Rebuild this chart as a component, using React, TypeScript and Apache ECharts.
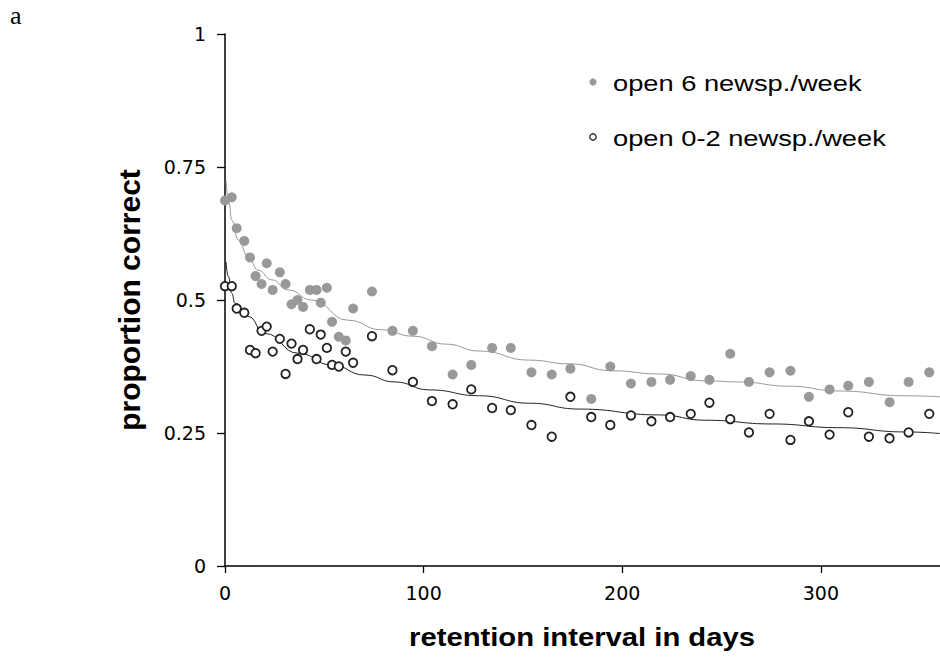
import React, { useEffect, useRef } from "react";
import * as echarts from "echarts";

// Retention interval (days) at which each recall test was taken
const retentionDays = [
  0, 3.4, 5.9, 9.7, 12.6, 15.4, 18.4, 21, 24, 27.6, 30.5, 33.5, 36.5, 39.3, 42.7, 46.1, 48.2,
  51.3, 53.9, 57.3, 60.8, 64.5, 74, 84.3, 94.6, 104.2, 114.6, 124, 134.5, 143.9, 154.3, 164.5,
  173.9, 184.4, 194, 204.4, 214.7, 224.1, 234.5, 243.9, 254.4, 263.8, 274.2, 284.7, 294, 304.4,
  313.8, 324.2, 334.6, 344.2, 354.6,
];

// Proportion correct, readers who open 6 newspapers per week
const heavyReaders = [
  0.687, 0.693, 0.635, 0.611, 0.58, 0.545, 0.53, 0.569, 0.519, 0.552, 0.53, 0.492, 0.5, 0.487,
  0.519, 0.519, 0.495, 0.523, 0.459, 0.431, 0.424, 0.484, 0.516, 0.442, 0.442, 0.413, 0.36,
  0.378, 0.41, 0.41, 0.364, 0.36, 0.371, 0.314, 0.375, 0.343, 0.346, 0.35, 0.357, 0.35, 0.399,
  0.346, 0.364, 0.367, 0.318, 0.332, 0.339, 0.346, 0.308, 0.346, 0.364,
];

// Proportion correct, readers who open 0-2 newspapers per week
const lightReaders = [
  0.526, 0.526, 0.484, 0.476, 0.406, 0.4, 0.442, 0.45, 0.403, 0.427, 0.361, 0.418, 0.389, 0.406,
  0.445, 0.389, 0.435, 0.41, 0.378, 0.375, 0.403, 0.382, 0.432, 0.368, 0.346, 0.31, 0.304,
  0.332, 0.297, 0.293, 0.265, 0.243, 0.318, 0.28, 0.265, 0.283, 0.272, 0.28, 0.286, 0.307,
  0.276, 0.251, 0.286, 0.237, 0.272, 0.247, 0.289, 0.243, 0.24, 0.251, 0.286,
];

// Fitted retention curves
const heavyFitDays = [
  0.5, 2, 3.4, 6.7, 11.7, 16.7, 23.5, 31.8, 43.6, 62, 78.7, 94.6, 111.4, 128.1, 153.3, 173.4,
  195.1, 218.6, 242.1, 258.8, 283.9, 309, 342.6, 360,
];
const heavyFit = [
  0.726, 0.682, 0.65, 0.613, 0.581, 0.556, 0.538, 0.519, 0.5, 0.462, 0.444, 0.432, 0.417, 0.404,
  0.387, 0.38, 0.367, 0.361, 0.348, 0.346, 0.338, 0.329, 0.32, 0.318,
];
const lightFitDays = [
  0.5, 1.7, 3.4, 5, 11.7, 20.1, 36.8, 53.6, 70.4, 85.4, 103, 128.1, 153.3, 178.4, 218.6, 242.1,
  275.5, 309, 342.6, 360,
];
const lightFit = [
  0.572, 0.544, 0.513, 0.494, 0.469, 0.437, 0.4, 0.378, 0.359, 0.346, 0.331, 0.32, 0.306, 0.295,
  0.284, 0.274, 0.267, 0.26, 0.252, 0.249,
];

const legendLabels = ["open 6 newsp./week", "open 0-2 newsp./week"];

const zip = (xs: number[], ys: number[]) => xs.map((x, i) => [x, ys[i]]);

const GREY = "#999999";
const DARK = "#222222";
const SANS = "'Liberation Sans', Arial, sans-serif";
const TICK_FONT = "'DejaVu Sans', sans-serif";

export default function App() {
  const ref = useRef<HTMLDivElement>(null);

  useEffect(() => {
    if (!ref.current) return;
    const chart = echarts.init(ref.current, undefined, { renderer: "svg" });

    const axisLine = { show: true, lineStyle: { color: "#000", width: 1.5 } };
    const axisTick = { show: true, inside: false, length: 8, lineStyle: { color: "#000", width: 1.3 } };

    chart.setOption({
      animation: false,
      backgroundColor: "#fff",
      grid: { left: 225, right: 0, top: 34, bottom: 91, containLabel: false },
      xAxis: {
        type: "value",
        min: 0,
        max: 360,
        interval: 100,
        axisLine,
        axisTick: { ...axisTick, length: 7 },
        splitLine: { show: false },
        axisLabel: {
          margin: 17,
          fontSize: 19,
          fontFamily: TICK_FONT,
          color: "#000",
          showMaxLabel: false,
        },
      },
      yAxis: {
        type: "value",
        min: 0,
        max: 1,
        interval: 0.25,
        axisLine,
        axisTick,
        splitLine: { show: false },
        axisLabel: { margin: 19, fontSize: 19, fontFamily: TICK_FONT, color: "#000" },
      },
      series: [
        {
          name: legendLabels[0] + " fit",
          type: "line",
          data: zip(heavyFitDays, heavyFit),
          showSymbol: false,
          smooth: true,
          smoothMonotone: "x",
          lineStyle: { color: GREY, width: 1 },
          z: 2,
        },
        {
          name: legendLabels[1] + " fit",
          type: "line",
          data: zip(lightFitDays, lightFit),
          showSymbol: false,
          smooth: true,
          smoothMonotone: "x",
          lineStyle: { color: DARK, width: 1 },
          z: 2,
        },
        {
          name: legendLabels[0],
          type: "scatter",
          data: zip(retentionDays, heavyReaders),
          symbol: "circle",
          symbolSize: 10,
          itemStyle: { color: GREY, opacity: 1 },
          z: 3,
        },
        {
          name: legendLabels[1],
          type: "scatter",
          data: zip(retentionDays, lightReaders),
          symbol: "circle",
          symbolSize: 8.5,
          itemStyle: { color: "#fff", borderColor: DARK, borderWidth: 1.8, opacity: 1 },
          z: 4,
        },
      ],
      graphic: [
        {
          type: "text",
          x: 10,
          y: 15,
          style: {
            text: "a",
            font: "26px 'Liberation Serif', 'Times New Roman', serif",
            fill: "#000",
            align: "left",
            verticalAlign: "middle",
          },
        },
        {
          type: "circle",
          shape: { cx: 593, cy: 82, r: 3.6 },
          style: { fill: GREY },
        },
        {
          type: "text",
          x: 613,
          y: 83.5,
          scaleX: 1.24,
          style: {
            text: legendLabels[0],
            font: `22px ${SANS}`,
            fill: "#000",
            align: "left",
            verticalAlign: "middle",
          },
        },
        {
          type: "circle",
          shape: { cx: 593, cy: 137, r: 3.2 },
          style: { fill: "#fff", stroke: DARK, lineWidth: 1.3 },
        },
        {
          type: "text",
          x: 613,
          y: 138.5,
          scaleX: 1.24,
          style: {
            text: legendLabels[1],
            font: `22px ${SANS}`,
            fill: "#000",
            align: "left",
            verticalAlign: "middle",
          },
        },
        {
          type: "text",
          x: 582,
          y: 637,
          scaleX: 1.17,
          style: {
            text: "retention interval in days",
            font: `bold 25px ${SANS}`,
            fill: "#000",
            align: "center",
            verticalAlign: "middle",
          },
        },
        {
          type: "text",
          x: 129,
          y: 300,
          rotation: Math.PI / 2,
          style: {
            text: "proportion correct",
            font: `bold 30px ${SANS}`,
            fill: "#000",
            align: "center",
            verticalAlign: "middle",
          },
        },
      ],
    });

    return () => chart.dispose();
  }, []);

  return (
    <div
      ref={ref}
      style={{ position: "fixed", left: 0, top: 0, width: 940, height: 657, background: "#fff" }}
    />
  );
}
